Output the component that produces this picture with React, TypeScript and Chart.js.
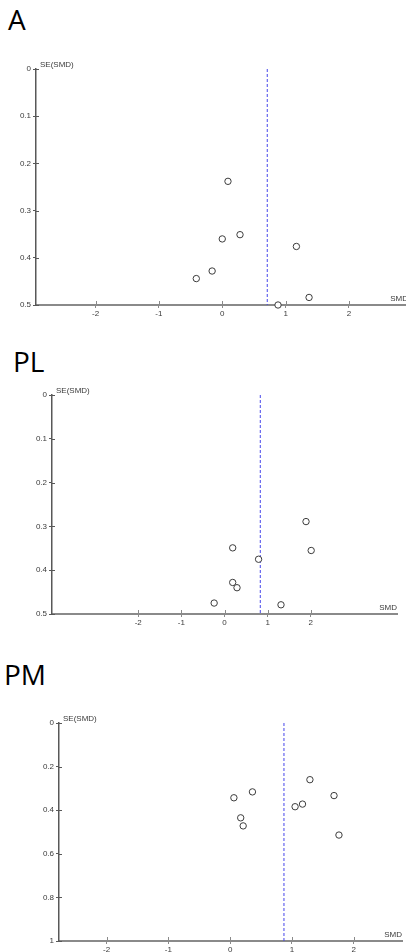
import React, { useEffect, useRef } from "react";
import { Chart, registerables } from "chart.js";

Chart.register(...registerables);

// ---- Data ----
const xTitle = "SMD";
const yTitle = "SE(SMD)";

const smdA = [0.09, 0.0, 0.28, 1.17, -0.16, -0.41, 1.37, 0.88];
const seA = [0.238, 0.36, 0.351, 0.376, 0.428, 0.444, 0.484, 0.5];
const pooledA = 0.71;
const xTicksA = [-2, -1, 0, 1, 2];
const yTicksA = [0, 0.1, 0.2, 0.3, 0.4, 0.5];

const smdPL = [1.89, 2.01, 0.19, 0.79, 0.19, 0.29, -0.24, 1.31];
const sePL = [0.289, 0.355, 0.349, 0.375, 0.428, 0.44, 0.475, 0.479];
const pooledPL = 0.83;
const xTicksPL = [-2, -1, 0, 1, 2];
const yTicksPL = [0, 0.1, 0.2, 0.3, 0.4, 0.5];

const smdPM = [1.29, 0.36, 1.68, 0.06, 1.17, 1.05, 0.17, 0.21, 1.76];
const sePM = [0.26, 0.316, 0.333, 0.343, 0.372, 0.384, 0.435, 0.472, 0.514];
const pooledPM = 0.87;
const xTicksPM = [-2, -1, 0, 1, 2];
const yTicksPM = [0, 0.2, 0.4, 0.6, 0.8, 1];

// ---- Styles ----
const AXIS_Y = "#585858";
const AXIS_X = "#8a8a8a";
const TEXT = "#3a3a3a";
const FONT_FAMILY = "'Liberation Sans', Arial, sans-serif";

const funnelDecor = {
  id: "funnelDecor",
  afterDraw(chart: any, _args: any, opts: any) {
    const { ctx, chartArea: a, scales } = chart;
    const xs = scales.x;
    const ys = scales.y;
    const shift = (opts && opts.xTitleShift) || 0;
    ctx.save();
    ctx.lineWidth = 1;
    ctx.strokeStyle = AXIS_Y;
    ys.ticks.forEach((t: any) => {
      const py = Math.round(ys.getPixelForValue(t.value)) + 0.5;
      ctx.beginPath();
      ctx.moveTo(a.left, py);
      ctx.lineTo(a.left + 3, py);
      ctx.stroke();
    });
    ctx.strokeStyle = AXIS_X;
    xs.ticks.forEach((t: any) => {
      const px = Math.round(xs.getPixelForValue(t.value)) + 0.5;
      ctx.beginPath();
      ctx.moveTo(px, a.bottom);
      ctx.lineTo(px, a.bottom - 4);
      ctx.stroke();
    });
    ctx.fillStyle = TEXT;
    ctx.font = `8px ${FONT_FAMILY}`;
    ctx.textAlign = "left";
    ctx.textBaseline = "middle";
    ctx.fillText(yTitle, a.left + 4, a.top - 4);
    ctx.textAlign = "right";
    ctx.textBaseline = "bottom";
    ctx.fillText(xTitle, a.right + shift, a.bottom - 2);
    ctx.restore();
  },
};

type FunnelProps = {
  smd: number[];
  se: number[];
  pooled: number;
  xTicks: number[];
  yTicks: number[];
  xMin: number;
  xMax: number;
  yMax: number;
  left: number;
  top: number;
  width: number;
  height: number;
  yAxisWidth: number;
  xAxisHeight: number;
  padTop: number;
  padRight: number;
  xTitleShift: number;
};

function Funnel(p: FunnelProps) {
  const ref = useRef<HTMLCanvasElement | null>(null);
  useEffect(() => {
    if (!ref.current) return;
    const points = p.smd.map((x, i) => ({ x, y: p.se[i] }));
    const chart = new Chart(ref.current, {
      type: "scatter",
      data: {
        datasets: [
          {
            data: points,
            pointRadius: 3.2,
            pointBorderWidth: 1,
            pointBorderColor: "#3c3c3c",
            pointBackgroundColor: "rgba(255,255,255,1)",
            showLine: false,
            clip: false as any,
          },
          {
            type: "line" as any,
            data: [
              { x: p.pooled, y: 0 },
              { x: p.pooled, y: p.yMax },
            ],
            borderColor: "rgb(70,70,235)",
            borderWidth: 1,
            borderDash: [3, 2],
            pointRadius: 0,
            showLine: true,
            clip: false as any,
          },
        ],
      },
      options: {
        responsive: false,
        animation: false,
        layout: {
          autoPadding: false,
          padding: { top: p.padTop, right: p.padRight, left: 0, bottom: 0 },
        },
        plugins: {
          legend: { display: false },
          tooltip: { enabled: false },
          funnelDecor: { xTitleShift: p.xTitleShift },
        },
        scales: {
          x: {
            type: "linear",
            min: p.xMin,
            max: p.xMax,
            afterBuildTicks: (s: any) => {
              s.ticks = p.xTicks.map((v) => ({ value: v }));
            },
            afterFit: (s: any) => {
              s.height = p.xAxisHeight;
              s.paddingLeft = 0;
              s.paddingRight = 0;
            },
            grid: { drawOnChartArea: false, drawTicks: true, tickLength: 3, color: AXIS_X },
            border: { display: true, color: AXIS_X, width: 2 },
            ticks: {
              color: TEXT,
              font: { size: 8, family: FONT_FAMILY },
              padding: 1,
              maxRotation: 0,
              autoSkip: false,
              callback: (v: any) => String(v),
            },
          },
          y: {
            type: "linear",
            reverse: true,
            min: 0,
            max: p.yMax,
            afterBuildTicks: (s: any) => {
              s.ticks = p.yTicks.map((v) => ({ value: v }));
            },
            afterFit: (s: any) => {
              s.width = p.yAxisWidth;
              s.paddingTop = 0;
              s.paddingBottom = 0;
            },
            grid: { drawOnChartArea: false, drawTicks: true, tickLength: 3, color: AXIS_Y },
            border: { display: true, color: AXIS_Y, width: 1.5 },
            ticks: {
              color: TEXT,
              font: { size: 8, family: FONT_FAMILY },
              padding: 2,
              autoSkip: false,
              callback: (v: any) => String(v),
            },
          },
        },
      },
      plugins: [funnelDecor],
    } as any);
    return () => chart.destroy();
  }, []);
  return (
    <div
      style={{
        position: "absolute",
        left: p.left,
        top: p.top,
        width: p.width,
        height: p.height,
        overflow: "hidden",
      }}
    >
      <canvas ref={ref} width={p.width} height={p.height} style={{ display: "block" }} />
    </div>
  );
}

const titleStyle: React.CSSProperties = {
  position: "absolute",
  fontFamily: "'Open Sans', 'Noto Sans', sans-serif",
  fontSize: 28,
  lineHeight: "28px",
  color: "#000",
  margin: 0,
  zIndex: 2,
};

export default function App() {
  return (
    <div>
      <div style={{ ...titleStyle, left: 8, top: 5 }}>A</div>
      <Funnel
        smd={smdA}
        se={seA}
        pooled={pooledA}
        xTicks={xTicksA}
        yTicks={yTicksA}
        xMin={-2.94}
        xMax={2.9}
        yMax={0.5}
        left={0}
        top={40}
        width={406}
        height={285}
        yAxisWidth={36}
        xAxisHeight={20}
        padTop={29}
        padRight={0}
        xTitleShift={2}
      />
      <div style={{ ...titleStyle, left: 13, top: 347 }}>PL</div>
      <Funnel
        smd={smdPL}
        se={sePL}
        pooled={pooledPL}
        xTicks={xTicksPL}
        yTicks={yTicksPL}
        xMin={-4}
        xMax={4}
        yMax={0.5}
        left={0}
        top={380}
        width={406}
        height={254}
        yAxisWidth={52}
        xAxisHeight={20}
        padTop={15}
        padRight={9}
        xTitleShift={0}
      />
      <div style={{ ...titleStyle, left: 4, top: 660 }}>PM</div>
      <Funnel
        smd={smdPM}
        se={sePM}
        pooled={pooledPM}
        xTicks={xTicksPM}
        yTicks={yTicksPM}
        xMin={-2.77}
        xMax={2.78}
        yMax={1}
        left={0}
        top={700}
        width={406}
        height={252}
        yAxisWidth={59}
        xAxisHeight={11}
        padTop={23}
        padRight={4}
        xTitleShift={0}
      />
    </div>
  );
}
